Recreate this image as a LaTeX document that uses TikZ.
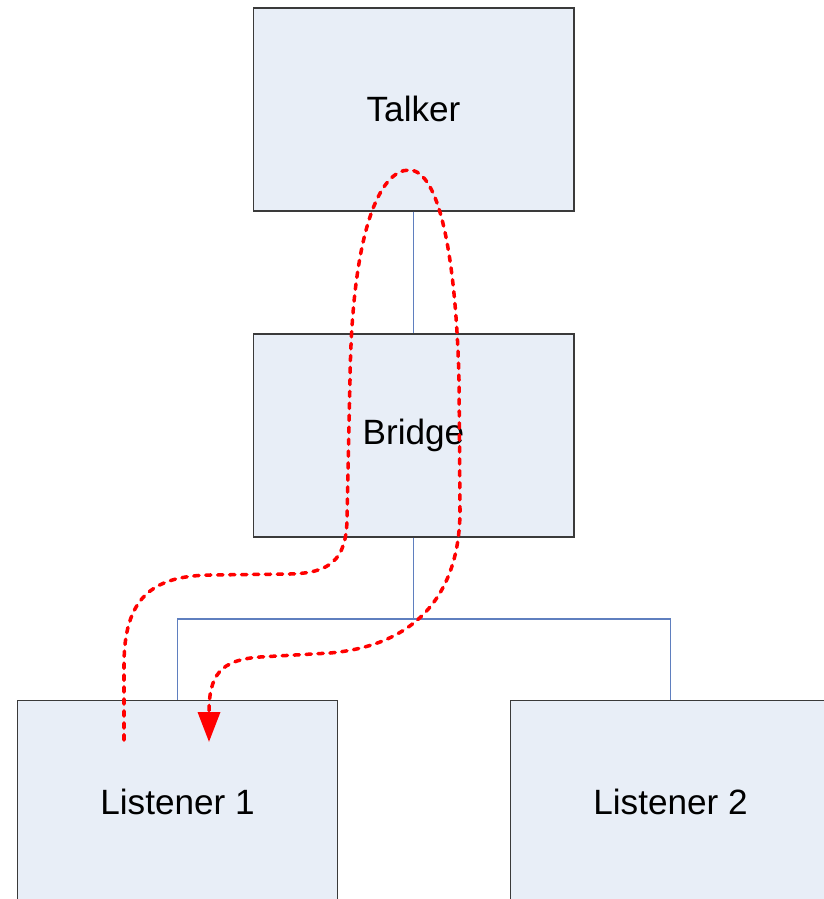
\documentclass[tikz,border=0pt]{standalone}
\usepackage{fontspec}
\setmainfont{Liberation Sans}
\usetikzlibrary{arrows.meta}
\definecolor{boxfill}{HTML}{E8EEF7}
\definecolor{boxline}{HTML}{3A3A3A}
\definecolor{linkblue}{HTML}{5F7FBF}

\begin{document}
\begin{tikzpicture}[
    x=0.02cm, y=-0.02cm,
    font=\fontsize{20}{24}\selectfont,
    box/.style={rectangle, draw=boxline, line width=0.6pt, fill=boxfill,
      minimum width=6.42cm, minimum height=4.06cm, inner sep=0pt},
    link/.style={-, draw=linkblue, line width=0.6pt},
    flow/.style={draw=red, line width=2pt, line cap=round,
      dash pattern=on 3pt off 3.8pt,
      -{Triangle[length=0.6cm,width=0.44cm,line cap=butt]}}
  ]
    \useasboundingbox (0,0) rectangle (824,899);
    \clip (0,0) rectangle (824,899);

    \node[box] (talker) at (413.5,109.5) {\raisebox{1pt}{Talker}};
    \node[box] (bridge) at (413.5,435.5) {\raisebox{1pt}{Bridge}};
    \node[box] (lis1)   at (177.5,801.5) {Listener 1};
    \node[box] (lis2)   at (670.5,801.5) {Listener 2};

    \coordinate (bus) at (413.5,619);

    \draw[link] (talker) -- (bridge);
    \draw[link] (bridge) -- (bus);
    \draw[link] (bus) -| (lis1.north);
    \draw[link] (bus) -| (lis2.north);

    % frame from listener 1 up through the bridge to the talker and back
    \draw[flow] (124,740) -- (124,665)
      .. controls (124,600) and (150,576) .. (210,575) -- (290,574)
      .. controls (330,573) and (346,560) .. (347,520) -- (350,380)
      .. controls (352,230) and (380,170) .. (409,170)
      .. controls (440,170) and (456,260) .. (459,380) -- (460,510)
      .. controls (460,590) and (420,645) .. (330,653) -- (260,657)
      .. controls (220,660) and (209,675) .. (209,742);
\end{tikzpicture}
\end{document}
